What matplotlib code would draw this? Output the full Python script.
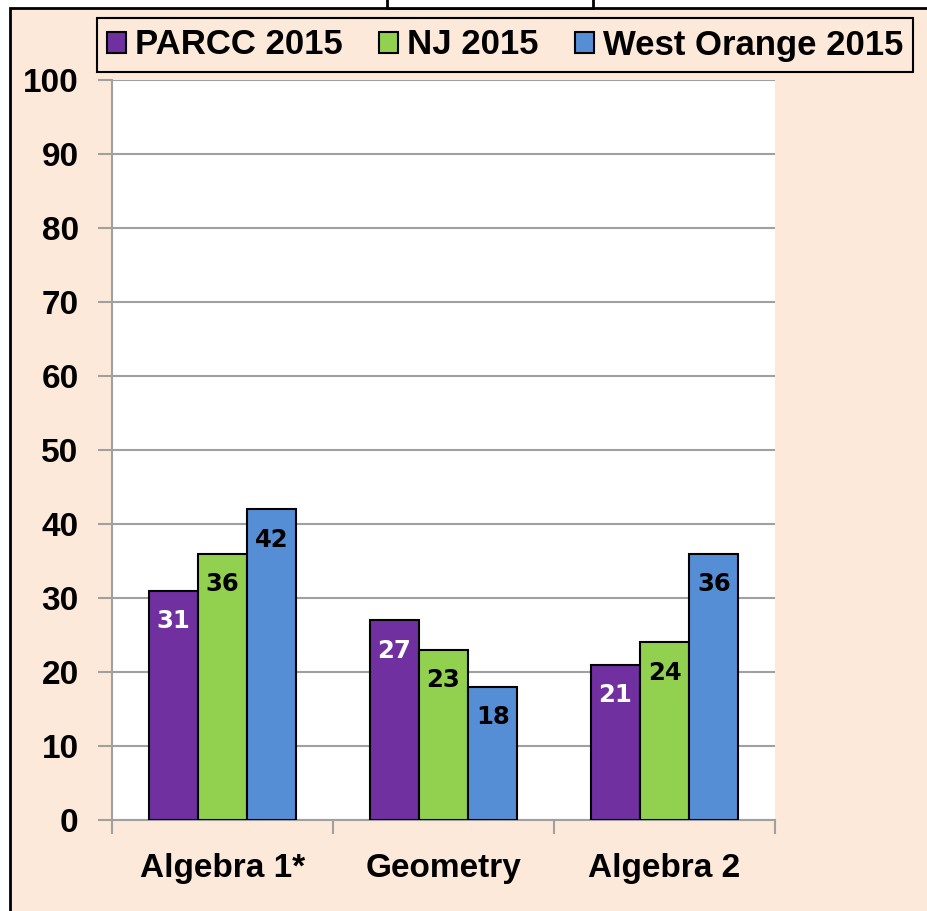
import matplotlib
matplotlib.use("Agg")
import numpy as np
import matplotlib.pyplot as plt
from matplotlib.patches import Rectangle

categories = ["Algebra 1*", "Geometry", "Algebra 2"]
series = ["PARCC 2015", "NJ 2015", "West Orange 2015"]
parcc = [31, 27, 21]
nj = [36, 23, 24]
west_orange = [42, 18, 36]
yticks = [0, 10, 20, 30, 40, 50, 60, 70, 80, 90, 100]

colors = ["#7030A0", "#92D050", "#558ED5"]
label_colors = ["white", "black", "black"]
peach = "#FDE9D9"
font = ["Liberation Sans", "DejaVu Sans"]

fig = plt.figure(figsize=(9.27, 9.11), dpi=100, facecolor="white")
# outer peach panel with black frame (top and left edges visible)
fig.patches.append(Rectangle((10 / 927, -0.05), 1.0, (911 - 8) / 911 + 0.05,
                             transform=fig.transFigure, facecolor=peach,
                             edgecolor="black", linewidth=2, zorder=-10))
# cut-off title box at top
fig.patches.append(Rectangle((387 / 927, (911 - 8) / 911), 206 / 927, 0.02,
                             transform=fig.transFigure, facecolor="white",
                             edgecolor="black", linewidth=2, zorder=-10))

ax = fig.add_axes([112 / 927, 1 - 820 / 911, 663 / 927, 740 / 911])
ax.set_facecolor("white")

x = np.arange(len(categories))
w = 0.223
for i, (name, vals) in enumerate(zip(series, [parcc, nj, west_orange])):
    bars = ax.bar(x + (i - 1) * w, vals, w, color=colors[i], edgecolor="black",
                  linewidth=1.5, label=name, zorder=3)
    for b, v in zip(bars, vals):
        ax.text(b.get_x() + b.get_width() / 2, v - 4.1, str(v), ha="center",
                va="center", fontsize=17.5, fontweight="bold",
                color=label_colors[i], family="DejaVu Sans", zorder=4)

ax.set_xlim(-0.5, 2.5)
ax.set_ylim(0, 100)
ax.set_yticks(yticks)
ax.set_yticklabels([str(t) for t in yticks], fontsize=24, fontweight="bold",
                   family=font)
ax.yaxis.grid(True, color="#A0A0A0", linewidth=1.5, zorder=0)
ax.set_xticks(x)
ax.set_xticklabels(categories, fontsize=24, fontweight="bold", family=font)
ax.set_xticks([-0.5, 0.5, 1.5, 2.5], minor=True)
ax.tick_params(axis="x", which="major", length=0, pad=24)
ax.tick_params(axis="x", which="minor", length=10, color="#A0A0A0", width=1.5)
ax.tick_params(axis="y", length=10, color="#A0A0A0", width=1.5, pad=14)
for s in ["top", "right"]:
    ax.spines[s].set_visible(False)
for s in ["left", "bottom"]:
    ax.spines[s].set_color("#A0A0A0")
    ax.spines[s].set_linewidth(1.5)

leg = fig.legend(loc="center", bbox_to_anchor=(505 / 927, 1 - 45 / 911),
                 ncol=3, frameon=True, fancybox=False, edgecolor="black",
                 facecolor=peach, framealpha=1, handlelength=0.55,
                 handleheight=0.55, handletextpad=0.25, columnspacing=1.05,
                 borderpad=0.3, prop={"family": font, "weight": "bold",
                                      "size": 25})
leg.get_frame().set_linewidth(1.5)

fig.savefig("out.png", dpi=100, facecolor=fig.get_facecolor())
